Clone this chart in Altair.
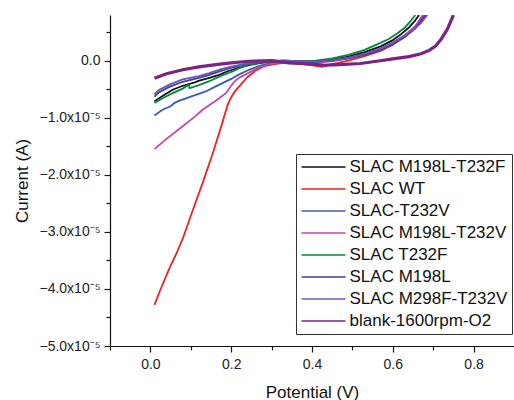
import altair as alt
import pandas as pd

# ---- data (potential in V, current in units of 1e-5 A) ----
series_names = ["SLAC M198L-T232F", "SLAC WT", "SLAC-T232V", "SLAC M198L-T232V",
                "SLAC T232F", "SLAC M198L", "SLAC M298F-T232V", "blank-1600rpm-O2"]
series_colors = ["#111111", "#EE2222", "#3A5BB8", "#C445A8",
                 "#008A40", "#3F3F96", "#6A55BE", "#7A2383"]

black_x = [0.01, 0.03, 0.055, 0.08, 0.11, 0.121, 0.146, 0.17, 0.19, 0.22, 0.25, 0.29, 0.33, 0.37, 0.41, 0.45, 0.49, 0.53, 0.57, 0.60, 0.62, 0.64, 0.655, 0.665]
black_y = [-0.71, -0.62, -0.51, -0.44, -0.38, -0.35, -0.30, -0.25, -0.19, -0.12, -0.07, -0.02, 0.0, -0.01, -0.01, 0.02, 0.07, 0.15, 0.25, 0.36, 0.46, 0.58, 0.70, 0.80]

red_x = [0.01, 0.025, 0.047, 0.065, 0.08, 0.104, 0.129, 0.154, 0.175, 0.185, 0.191, 0.20, 0.21, 0.22, 0.24, 0.261, 0.28, 0.30, 0.343, 0.38, 0.425, 0.45, 0.49, 0.53, 0.57, 0.60, 0.63, 0.655, 0.675]
red_y = [-4.28, -4.01, -3.64, -3.37, -3.12, -2.64, -2.15, -1.63, -1.16, -0.92, -0.78, -0.64, -0.53, -0.45, -0.29, -0.17, -0.10, -0.07, -0.02, -0.06, -0.11, -0.06, 0.0, 0.08, 0.17, 0.28, 0.42, 0.58, 0.80]

blue_x = [0.01, 0.03, 0.05, 0.06, 0.072, 0.10, 0.137, 0.162, 0.20, 0.22, 0.244, 0.27, 0.30, 0.326, 0.37, 0.41, 0.45, 0.49, 0.53, 0.57, 0.60, 0.63, 0.655, 0.67, 0.685]
blue_y = [-0.96, -0.86, -0.80, -0.74, -0.70, -0.63, -0.54, -0.45, -0.32, -0.24, -0.16, -0.09, -0.04, -0.01, -0.02, -0.02, 0.01, 0.05, 0.12, 0.21, 0.31, 0.44, 0.56, 0.67, 0.80]

magenta_x = [0.01, 0.04, 0.08, 0.11, 0.129, 0.16, 0.187, 0.207, 0.22, 0.244, 0.269, 0.30, 0.33, 0.37, 0.41, 0.45, 0.49, 0.53, 0.57, 0.60, 0.63, 0.655, 0.675]
magenta_y = [-1.55, -1.37, -1.15, -0.98, -0.86, -0.71, -0.57, -0.37, -0.30, -0.21, -0.12, -0.05, -0.02, -0.02, -0.04, -0.01, 0.04, 0.11, 0.21, 0.32, 0.45, 0.60, 0.80]

green_x = [0.01, 0.03, 0.055, 0.08, 0.095, 0.097, 0.12, 0.146, 0.17, 0.203, 0.22, 0.244, 0.27, 0.30, 0.33, 0.37, 0.41, 0.45, 0.49, 0.53, 0.56, 0.59, 0.61, 0.63, 0.645, 0.656]
green_y = [-0.74, -0.66, -0.57, -0.49, -0.42, -0.48, -0.43, -0.36, -0.28, -0.19, -0.13, -0.07, -0.04, -0.02, -0.01, -0.01, 0.0, 0.04, 0.10, 0.19, 0.28, 0.38, 0.47, 0.58, 0.70, 0.80]

navy_x = [0.01, 0.02, 0.047, 0.08, 0.12, 0.146, 0.175, 0.203, 0.24, 0.27, 0.30, 0.33, 0.37, 0.41, 0.45, 0.49, 0.53, 0.57, 0.60, 0.63, 0.65, 0.665, 0.68]
navy_y = [-0.63, -0.56, -0.46, -0.37, -0.30, -0.25, -0.18, -0.12, -0.06, -0.03, -0.01, 0.0, -0.01, -0.02, 0.0, 0.04, 0.10, 0.19, 0.29, 0.42, 0.53, 0.65, 0.80]

violet_x = [0.01, 0.02, 0.047, 0.08, 0.12, 0.146, 0.175, 0.203, 0.24, 0.27, 0.30, 0.33, 0.37, 0.41, 0.45, 0.49, 0.53, 0.57, 0.60, 0.63, 0.65, 0.67, 0.685]
violet_y = [-0.59, -0.52, -0.42, -0.33, -0.27, -0.22, -0.15, -0.10, -0.05, -0.02, 0.0, 0.0, -0.01, -0.02, 0.01, 0.05, 0.12, 0.21, 0.31, 0.44, 0.54, 0.66, 0.80]

blank_x = [0.01, 0.04, 0.08, 0.12, 0.162, 0.20, 0.244, 0.30, 0.343, 0.40, 0.434, 0.467, 0.52, 0.56, 0.60, 0.64, 0.67, 0.69, 0.705, 0.72, 0.735, 0.75]
blank_y = [-0.31, -0.23, -0.16, -0.11, -0.07, -0.04, -0.01, 0.0, -0.04, -0.06, -0.08, -0.07, -0.05, -0.01, 0.03, 0.07, 0.12, 0.18, 0.25, 0.38, 0.55, 0.80]

x_ticks = [0.0, 0.2, 0.4, 0.6, 0.8]
x_minor = [-0.1, 0.1, 0.3, 0.5, 0.7, 0.9]
y_ticks_e5 = [-5, -4, -3, -2, -1, 0]
y_minor_e5 = [-4.5, -3.5, -2.5, -1.5, -0.5, 0.5]

all_x = [black_x, red_x, blue_x, magenta_x, green_x, navy_x, violet_x, blank_x]
all_y = [black_y, red_y, blue_y, magenta_y, green_y, navy_y, violet_y, blank_y]

rows = []
for name, xs, ys in zip(series_names, all_x, all_y):
    for i, (xv, yv) in enumerate(zip(xs, ys)):
        rows.append({"series": name, "potential": xv, "current": yv * 1e-5, "i": i})
df = pd.DataFrame(rows)

FONT = "Liberation Sans"
xscale = alt.Scale(domain=[-0.1, 0.9], nice=False, zero=False)
yscale = alt.Scale(domain=[-5e-5, 0.8e-5], nice=False, zero=False)
color = alt.Color("series:N",
                  scale=alt.Scale(domain=series_names, range=series_colors),
                  sort=series_names,
                  legend=alt.Legend(title=None, orient="none", legendX=186, legendY=139,
                                    symbolType="stroke", symbolSize=1936, symbolStrokeWidth=1.5,
                                    clipHeight=17, rowPadding=4, labelFont=FONT, labelFontSize=17,
                                    labelColor="#111", labelOffset=3, padding=4.5,
                                    strokeColor="#333", fillColor="white", labelLimit=300))

y_label_expr = "datum.value == 0 ? '0.0' : format(datum.value * 1e5, '.1f') + 'x10⁻⁵'"

main = alt.Chart(df[df.series != "blank-1600rpm-O2"]).mark_line(strokeWidth=1.8, clip=True).encode(
    x=alt.X("potential:Q", scale=xscale,
            axis=alt.Axis(title="Potential (V)", values=x_ticks, format=".1f", grid=False,
                          tickSize=6, labelPadding=5, titlePadding=13, orient="bottom")),
    y=alt.Y("current:Q", scale=yscale,
            axis=alt.Axis(title="Current (A)", values=[v * 1e-5 for v in y_ticks_e5],
                          labelExpr=y_label_expr, grid=False, tickSize=6, labelPadding=4,
                          titlePadding=7, orient="left")),
    color=color,
    order=alt.Order("i:Q"),
)

blank = alt.Chart(df[df.series == "blank-1600rpm-O2"]).mark_line(strokeWidth=3.2, clip=True).encode(
    x=alt.X("potential:Q", scale=xscale,
            axis=alt.Axis(title=None, values=x_minor, labels=False, grid=False, domain=False,
                          tickSize=4, orient="bottom")),
    y=alt.Y("current:Q", scale=yscale,
            axis=alt.Axis(title=None, values=[v * 1e-5 for v in y_minor_e5], labels=False,
                          grid=False, domain=False, tickSize=4, orient="left")),
    color=color,
    order=alt.Order("i:Q"),
)

chart = alt.layer(main, blank).resolve_axis(x="independent", y="independent").properties(
    width=404, height=331,
    autosize=alt.AutoSizeParams(type="none"),
    padding={"left": 110, "top": 15, "right": 0, "bottom": 54},
).configure_view(stroke=None).configure_axis(
    labelFont=FONT, labelFontSize=14, labelColor="#222",
    titleFont=FONT, titleFontSize=17, titleColor="#111", titleFontWeight="normal",
    domainColor="#111", tickColor="#111", domainWidth=1.2, tickWidth=1.2,
)

chart.save("out.html", embed_options={"renderer": "svg", "actions": False})
